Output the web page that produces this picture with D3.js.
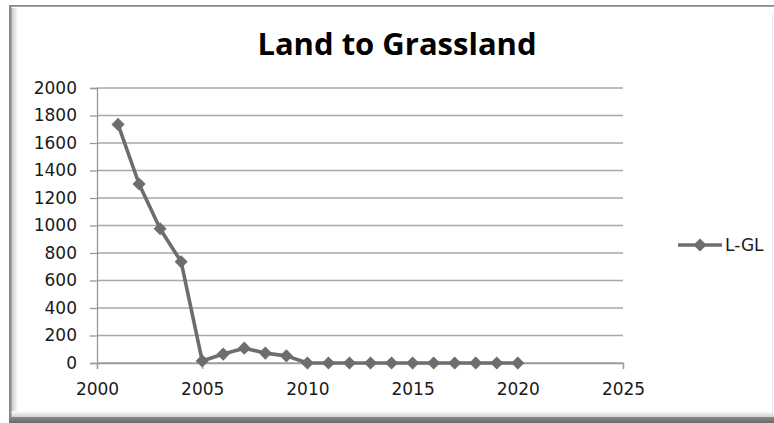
<!DOCTYPE html>
<html>
<head>
<meta charset="utf-8">
<script src="https://cdn.jsdelivr.net/npm/d3@7"></script>
<style>
  html, body { margin: 0; padding: 0; background: #fff; }
  svg { display: block; }
  text { font-family: "DejaVu Sans", sans-serif; fill: #1a1a1a; }
</style>
</head>
<body>
<svg id="chart" width="774" height="423"></svg>
<script>
// Land converted to grassland, per year
const years = [2001, 2002, 2003, 2004, 2005, 2006, 2007, 2008, 2009, 2010,
               2011, 2012, 2013, 2014, 2015, 2016, 2017, 2018, 2019, 2020];
const values = [1735, 1302, 976, 736, 15, 65, 108, 72, 52, 0,
                0, 0, 0, 0, 0, 0, 0, 0, 0, 0];
const xTicks = [2000, 2005, 2010, 2015, 2020, 2025];
const yTicks = [0, 200, 400, 600, 800, 1000, 1200, 1400, 1600, 1800, 2000];
const seriesName = "L-GL";
const chartTitle = "Land to Grassland";

const svg = d3.select("#chart");
const W = 774, H = 423;

// Framed chart area with a bevelled edge
const defs = svg.append("defs");
const gl = defs.append("linearGradient").attr("id", "edgeL").attr("x1", 0).attr("x2", 1).attr("y1", 0).attr("y2", 0);
gl.append("stop").attr("offset", 0).attr("stop-color", "#c4c4c4");
gl.append("stop").attr("offset", 1).attr("stop-color", "#ffffff");
const gb = defs.append("linearGradient").attr("id", "edgeB").attr("x1", 0).attr("x2", 0).attr("y1", 0).attr("y2", 1);
gb.append("stop").attr("offset", 0).attr("stop-color", "#ffffff");
gb.append("stop").attr("offset", 1).attr("stop-color", "#cfcfcf");
const gd = defs.append("linearGradient").attr("id", "edgeD").attr("x1", 0).attr("x2", 0).attr("y1", 0).attr("y2", 1);
gd.append("stop").attr("offset", 0).attr("stop-color", "#8a8a8a");
gd.append("stop").attr("offset", 1).attr("stop-color", "#6a6a6a");

svg.append("rect").attr("x", 0).attr("y", 0).attr("width", W).attr("height", H).attr("fill", "#fff");
svg.append("rect").attr("x", 11).attr("y", 8).attr("width", 7).attr("height", 407).attr("fill", "url(#edgeL)");
svg.append("rect").attr("x", 11).attr("y", 411).attr("width", W - 11).attr("height", 6).attr("fill", "url(#edgeB)");
svg.append("rect").attr("x", 9).attr("y", 417).attr("width", W - 9).attr("height", 6).attr("fill", "url(#edgeD)");
svg.append("rect").attr("x", 9).attr("y", 5).attr("width", 2.5).attr("height", 413).attr("fill", "#8c8c8c");
svg.append("rect").attr("x", 9).attr("y", 5).attr("width", W - 9).attr("height", 1.8).attr("fill", "#8c8c8c");
svg.append("rect").attr("x", W - 2).attr("y", 14).attr("width", 1).attr("height", 400).attr("fill", "#e6e6e6");

// Scales
const x = d3.scaleLinear().domain([2000, 2025]).range([97, 623]);
const y = d3.scaleLinear().domain([0, 2000]).range([363, 88]);

// Title
svg.append("text")
  .attr("x", 397).attr("y", 55)
  .attr("text-anchor", "middle")
  .style("font-family", "'Open Sans', sans-serif")
  .style("font-weight", "700")
  .style("font-size", "31px")
  .style("fill", "#000")
  .text(chartTitle);

// Horizontal gridlines
svg.append("g")
  .selectAll("line")
  .data(yTicks)
  .join("line")
  .attr("x1", x(2000)).attr("x2", x(2025))
  .attr("y1", d => y(d)).attr("y2", d => y(d))
  .attr("stroke", "#a9a9a9").attr("stroke-width", 1.3);

// Y axis
const yAxis = svg.append("g")
  .attr("transform", `translate(${x(2000)},0)`)
  .call(d3.axisLeft(y).tickValues(yTicks).tickSize(7).tickPadding(13).tickFormat(d3.format("d")));
yAxis.select(".domain").attr("stroke", "#9a9a9a").attr("stroke-width", 1.3);
yAxis.selectAll(".tick line").attr("stroke", "#9a9a9a").attr("stroke-width", 1.3);
yAxis.selectAll("text").style("font-size", "17px").style("font-family", "'DejaVu Sans', sans-serif").attr("fill", "#1a1a1a");

// X axis
const xAxis = svg.append("g")
  .attr("transform", `translate(0,${y(0)})`)
  .call(d3.axisBottom(x).tickValues(xTicks).tickSize(6).tickPadding(14).tickFormat(d3.format("d")));
xAxis.select(".domain").attr("stroke", "#9a9a9a").attr("stroke-width", 1.3);
xAxis.selectAll(".tick line").attr("stroke", "#9a9a9a").attr("stroke-width", 1.3);
xAxis.selectAll("text").style("font-size", "17px").style("font-family", "'DejaVu Sans', sans-serif").attr("fill", "#1a1a1a");

// Series line and diamond markers
const data = years.map((yr, i) => ({ yr, v: values[i] }));
const lineColor = "#6d6d6d";
svg.append("path")
  .datum(data)
  .attr("fill", "none")
  .attr("stroke", lineColor)
  .attr("stroke-width", 3.6)
  .attr("stroke-linejoin", "round")
  .attr("d", d3.line().x(d => x(d.yr)).y(d => y(d.v)));

const diamond = d3.symbol().type(d3.symbolDiamond2).size(110);
svg.append("g")
  .selectAll("path")
  .data(data)
  .join("path")
  .attr("transform", d => `translate(${x(d.yr)},${y(d.v)})`)
  .attr("d", diamond)
  .attr("fill", lineColor);

// Legend
const lg = svg.append("g").attr("transform", "translate(678,245)");
lg.append("line").attr("x1", 0).attr("x2", 44).attr("y1", 0).attr("y2", 0)
  .attr("stroke", lineColor).attr("stroke-width", 3.6);
lg.append("path").attr("transform", "translate(22,0)").attr("d", diamond).attr("fill", lineColor);
lg.append("text").attr("x", 47).attr("y", 0).attr("dy", "0.36em")
  .style("font-size", "17px").text(seriesName);
</script>
</body>
</html>
